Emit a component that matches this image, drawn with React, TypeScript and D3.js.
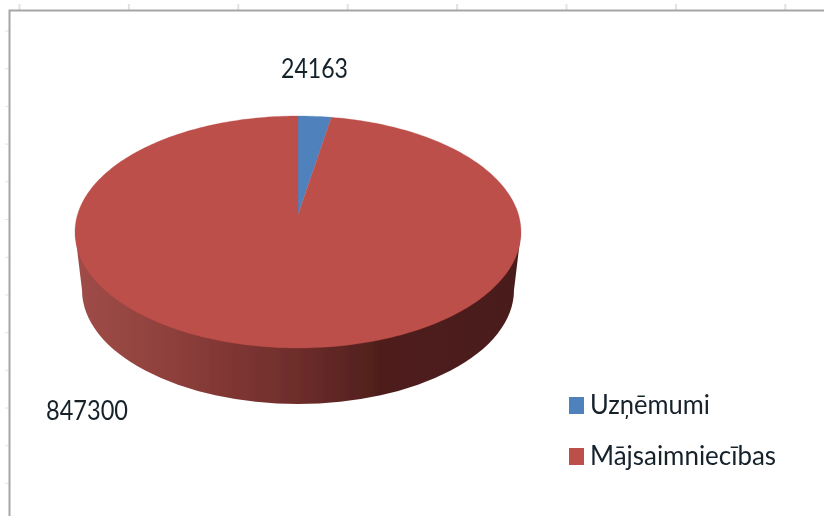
import React from "react";
import * as d3 from "d3";

const categories = ["Uzņēmumi", "Mājsaimniecības"];
const values = [24163, 847300];
const colors = ["#4f81bd", "#bd4f4b"];
const sideStops: [number, string][] = [
  [0, "#a04c48"], [0.2, "#8f413d"], [0.35, "#7f3633"], [0.5, "#6e2d2b"],
  [0.68, "#4f1f1c"], [1, "#4a1c1a"],
];
const topTickIndex = d3.range(0, 8);
const leftTickIndex = d3.range(0, 13);
const labelFont = "Lato, 'Open Sans', sans-serif";

const W = 824, H = 516;
const tickX = d3.scaleLinear().domain([0, 1]).range([19.5, 128.9]);
const tickY = d3.scaleLinear().domain([0, 1]).range([31, 68.7]);

// Tilted disc: a unit circle seen in perspective.
const cx = 298;
const apexY = 215, topY = 116, botY = 348, rimRx = 223;
const C = (2 * apexY - topY - botY) / (botY - topY);
const A = botY + botY * C - apexY;
const X = rimRx * Math.sqrt(1 - C * C);
function project(theta: number): [number, number] {
  const u = Math.sin(theta), v = -Math.cos(theta);
  const d = 1 + C * v;
  return [cx + (X * u) / d, (A * v + apexY) / d];
}

const pie = d3.pie<number>().value((d) => d).sort(null);
const arcs = pie(values);
const line = d3.line();
function slicePath(a0: number, a1: number) {
  const n = Math.max(4, Math.ceil((a1 - a0) / 0.02));
  const pts: [number, number][] = [[cx, apexY]];
  d3.range(n + 1).forEach((i) => pts.push(project(a0 + ((a1 - a0) * i) / n)));
  pts.push([cx, apexY]);
  return line(pts) + "Z";
}

// side wall
const wallDepth = 56;
const baseRx = 216, baseRy = 114;
const baseCy = botY + wallDepth - baseRy;
const rimCy = (topY + botY) / 2;

export default function App() {
  return (
    <svg
      width={W}
      height={H}
      viewBox={`0 0 ${W} ${H}`}
      style={{ position: "fixed", left: 0, top: 0, background: "#fff" }}
    >
      <defs>
        <linearGradient id="side" gradientUnits="userSpaceOnUse" x1={75} x2={521} y1={0} y2={0}>
          {sideStops.map(([o, c]) => (
            <stop key={o} offset={o} stopColor={c} />
          ))}
        </linearGradient>
        <filter id="soft" x="-5%" y="-5%" width="110%" height="110%">
          <feGaussianBlur stdDeviation="0.35" />
        </filter>
      </defs>
      <g stroke="#e2e2e2" strokeWidth={2}>
        {topTickIndex.map((i) => (
          <line key={i} x1={tickX(i)} x2={tickX(i)} y1={4} y2={10} />
        ))}
      </g>
      <g stroke="#e2e2e2" strokeWidth={1}>
        {leftTickIndex.map((i) => (
          <line key={i} x1={5} x2={9} y1={tickY(i)} y2={tickY(i)} />
        ))}
      </g>
      <path d={`M824,10.5H9.5V516`} fill="none" stroke="#a6a6a6" strokeWidth={2} />
      <g filter="url(#soft)">
        <path
          fill="url(#side)"
          d={`M${cx - rimRx},${rimCy}L${cx - baseRx},${baseCy}A${baseRx},${baseRy} 0 0 0 ${cx + baseRx},${baseCy}L${cx + rimRx},${rimCy}Z`}
        />
        {arcs.map((a, i) => (
          <path key={i} d={slicePath(a.startAngle, a.endAngle)} fill={colors[i]} stroke={colors[i]} strokeWidth={0.3} />
        ))}
      </g>
      <g filter="url(#soft)" fontFamily={labelFont} fill="#15202b">
        <text x={281} y={78} fontSize={27} textLength={67} lengthAdjust="spacingAndGlyphs">{values[0]}</text>
        <text x={46} y={420} fontSize={27} textLength={82} lengthAdjust="spacingAndGlyphs">{values[1]}</text>
        <text x={590} y={414} fontSize={26} textLength={120} lengthAdjust="spacingAndGlyphs">{categories[0]}</text>
        <text x={590} y={465} fontSize={26} textLength={186} lengthAdjust="spacingAndGlyphs">{categories[1]}</text>
      </g>
      <rect x={569} y={397} width={15} height={17} fill={colors[0]} />
      <rect x={569} y={448} width={15} height={17} fill={colors[1]} />
    </svg>
  );
}
